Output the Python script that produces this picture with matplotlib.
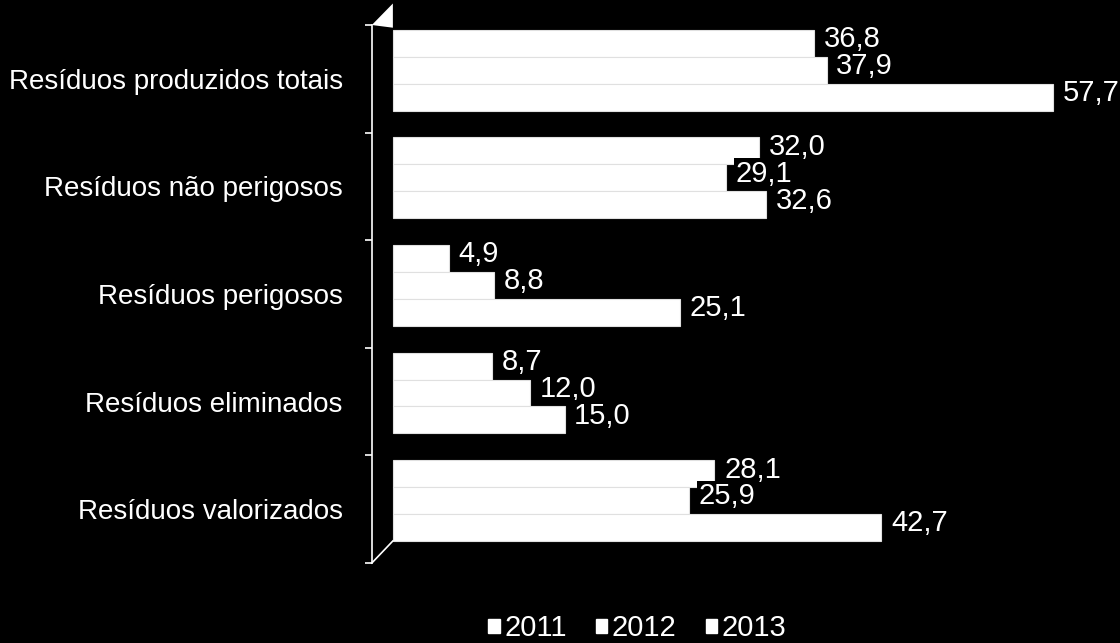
import numpy as np
import matplotlib.pyplot as plt
from matplotlib.patches import Patch

categories = ['Resíduos produzidos totais', 'Resíduos não perigosos', 'Resíduos perigosos',
              'Resíduos eliminados', 'Resíduos valorizados']
years = ['2011', '2012', '2013']
v2011 = [36.8, 32.0, 4.9, 8.7, 28.1]
v2012 = [37.9, 29.1, 8.8, 12.0, 25.9]
v2013 = [57.7, 32.6, 25.1, 15.0, 42.7]

plt.rcParams['font.family'] = ['Liberation Sans', 'DejaVu Sans']

fig = plt.figure(figsize=(11.2, 6.43), dpi=100, facecolor='black')
ax = fig.add_axes([0.332, 0.1244, 0.659, 0.8367])
ax.set_facecolor('black')

y = np.arange(len(categories))
offsets = [-0.33, -0.08, 0.17]
h = 0.25
for vals, off in zip([v2011, v2012, v2013], offsets):
    bars = ax.barh(y + off, vals, height=h, color='white', edgecolor='#e0e0e0',
                   linewidth=0.8, zorder=2)
    for b, v in zip(bars, vals):
        ax.annotate(f'{v:.1f}'.replace('.', ','),
                    xy=(b.get_width(), b.get_y() + b.get_height() / 2),
                    xytext=(7, 3), textcoords='offset points', va='center', ha='left',
                    color='white', fontsize=21, zorder=4,
                    bbox=dict(boxstyle='square,pad=0.05', fc='black', ec='none'))

ax.set_xlim(-1.84, 62.67)
ax.set_ylim(len(categories) - 0.5, -0.5)

# ticks at category boundaries, labels at centres
ax.set_yticks(np.arange(-0.5, len(categories)), labels=[])
ax.set_yticks(y, labels=categories, minor=True)
ax.tick_params(axis='y', which='major', length=5, color='white', width=1.2)
ax.tick_params(axis='y', which='minor', length=0, pad=21, labelsize=20, labelcolor='white')
ax.set_xticks([])
for s in ['top', 'right', 'bottom']:
    ax.spines[s].set_visible(False)
ax.spines['left'].set_color('white')
ax.spines['left'].set_linewidth(1.2)

# 3D wall edges
ax.plot([0, 0.0285], [0, 0.041], transform=ax.transAxes, color='white', lw=1.2, clip_on=False)
ax.fill([0, 0.0285, 0.0285], [1.0, 1.04, 0.995], transform=ax.transAxes, color='white',
        lw=0, clip_on=False)

handles = [Patch(facecolor='white', edgecolor='white') for _ in years]
fig.legend(handles, years, loc='lower center', bbox_to_anchor=(0.569, -0.04), ncol=3,
           frameon=False, fontsize=21, labelcolor='white', handlelength=0.4,
           handleheight=0.4, handletextpad=0.15, columnspacing=1.0)

fig.savefig('out.png', dpi=100, facecolor='black')
